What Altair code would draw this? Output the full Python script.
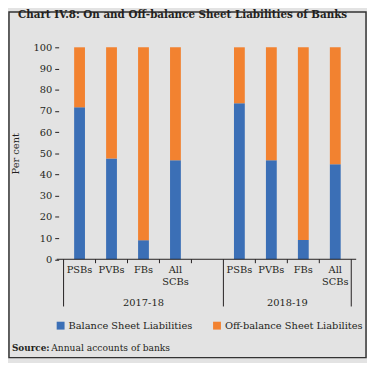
import altair as alt
import pandas as pd

years = ["2017-18", "2018-19"]
banks = ["PSBs", "PVBs", "FBs", "All\nSCBs"]
series = ["Balance Sheet Liabilities", "Off-balance Sheet Liabilites"]
balance_1718 = [71.7, 47.6, 9.0, 46.7]
balance_1819 = [73.6, 46.7, 9.1, 44.8]
slots_1718 = [0, 1, 2, 3]
slots_1819 = [5, 6, 7, 8]
group_bounds = [0, 5, 9]
minor_bounds = [1, 2, 3, 4, 6, 7, 8]
group_centers = [2.5, 7.0]

BLUE = "#3B6FB6"
ORANGE = "#F28230"
BG = "#E3E3E3"
INK = "#231F20"
FONT = "DejaVu Serif"

rows = []
for yr, slots, bal in [(years[0], slots_1718, balance_1718), (years[1], slots_1819, balance_1819)]:
    for s, b, v in zip(slots, banks, bal):
        rows.append({"slot": s + 0.5, "bank": b, "year": yr, "series": series[0], "ord": 0, "value": v})
        rows.append({"slot": s + 0.5, "bank": b, "year": yr, "series": series[1], "ord": 1, "value": round(100 - v, 1)})
df = pd.DataFrame(rows)

W, H = 302.5, 215.5
xs = alt.Scale(domain=[0, 9], nice=False, zero=False)

bars = alt.Chart(df).mark_bar(size=11).encode(
    x=alt.X("slot:Q", scale=xs, axis=None),
    y=alt.Y("value:Q", stack="zero", scale=alt.Scale(domain=[0, 100], nice=False),
            axis=alt.Axis(values=list(range(0, 101, 10)), domain=False, grid=False, tickSize=4,
                          tickColor=INK, labelFont=FONT, labelFontSize=10, labelColor=INK,
                          labelPadding=3, title="Per cent", titleFont=FONT, titleFontSize=10,
                          titleFontWeight="normal", titleColor=INK, titlePadding=13)),
    color=alt.Color("series:N", scale=alt.Scale(domain=series, range=[BLUE, ORANGE]),
                    legend=alt.Legend(orient="none", legendX=-3, legendY=278, direction="horizontal",
                                      title=None, symbolType="square", symbolSize=64,
                                      symbolStrokeWidth=0, labelFont=FONT, labelFontSize=10,
                                      labelColor=INK, columnPadding=20, labelOffset=3)),
    order=alt.Order("ord:Q"),
)

one = pd.DataFrame({"a": [0]})
baseline = alt.Chart(one).mark_rule(color=INK, strokeWidth=1).encode(
    x=alt.value(-2), x2=alt.value(W), y=alt.value(H))

minor = alt.Chart(pd.DataFrame({"b": minor_bounds})).mark_rule(color=INK, strokeWidth=1).encode(
    x=alt.X("b:Q", scale=xs), y=alt.value(H), y2=alt.value(H + 4))
major = alt.Chart(pd.DataFrame({"b": group_bounds})).mark_rule(color=INK, strokeWidth=1).encode(
    x=alt.X("b:Q", scale=xs), y=alt.value(H), y2=alt.value(H + 48))

labdf = pd.DataFrame({"slot": [s + 0.5 for s in slots_1718 + slots_1819], "bank": banks + banks})
catlabels = alt.Chart(labdf).mark_text(font=FONT, fontSize=10, color=INK, baseline="top",
                                       lineBreak="\n", lineHeight=13).encode(
    x=alt.X("slot:Q", scale=xs), y=alt.value(H + 5.5), text="bank:N")

yrdf = pd.DataFrame({"c": group_centers, "year": years})
yrlabels = alt.Chart(yrdf).mark_text(font=FONT, fontSize=10, color=INK, baseline="middle").encode(
    x=alt.X("c:Q", scale=xs), y=alt.value(H + 44.5), text="year:N")

title = alt.Chart(pd.DataFrame({"t": ["Chart IV.8: On and Off-balance Sheet Liabilities of Banks"]})).mark_text(
    font=FONT, fontSize=10.5, fontWeight="bold", color=INK, baseline="alphabetic", align="center").encode(
    x=alt.value(126), y=alt.value(-29.5), text="t:N")

src_b = alt.Chart(pd.DataFrame({"t": ["Source:"]})).mark_text(
    font=FONT, fontSize=9, fontWeight="bold", color=INK, baseline="middle", align="left").encode(
    x=alt.value(-47.5), y=alt.value(H + 90), text="t:N")
src_r = alt.Chart(pd.DataFrame({"t": ["Annual accounts of banks"]})).mark_text(
    font=FONT, fontSize=9.3, color=INK, baseline="middle", align="left").encode(
    x=alt.value(-7.5), y=alt.value(H + 90), text="t:N")

border = alt.Chart(one).mark_rect(filled=False, stroke="#333333", strokeWidth=1.5).encode(
    x=alt.value(-50.5), x2=alt.value(W + 10), y=alt.value(-36), y2=alt.value(H + 100))

chart = alt.layer(border, bars, baseline, minor, major, catlabels, yrlabels, title, src_b, src_r).properties(
    width=W, height=H,
    autosize=alt.AutoSizeParams(type="none"),
    padding={"left": 51.5, "top": 37, "right": 11, "bottom": 102.5},
    background=BG,
).configure_view(stroke=None)

chart.save("out.html", embed_options={"renderer": "svg", "actions": False})
